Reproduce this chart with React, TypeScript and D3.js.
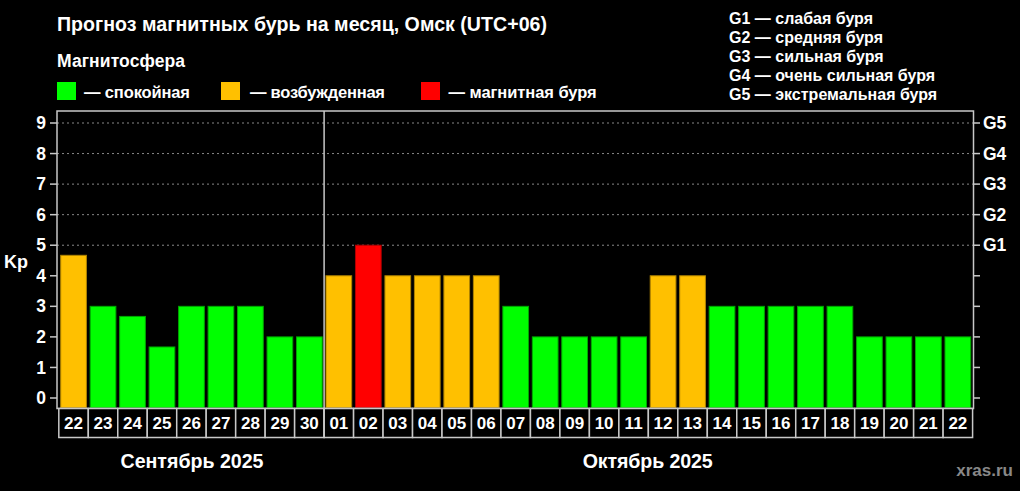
import React from "react";
import * as d3 from "d3";

const days = ["22","23","24","25","26","27","28","29","30","01","02","03","04","05","06","07","08","09","10","11","12","13","14","15","16","17","18","19","20","21","22"];
const kp = [4.67,3,2.67,1.67,3,3,3,2,2,4,5,4,4,4,4,3,2,2,2,2,4,4,3,3,3,3,3,2,2,2,2];
const yTicks = [0,1,2,3,4,5,6,7,8,9];
const gLevels = ["G1","G2","G3","G4","G5"];
const gValues = [5,6,7,8,9];
const gDescriptions = ["G1 — слабая буря","G2 — средняя буря","G3 — сильная буря","G4 — очень сильная буря","G5 — экстремальная буря"];
const months = ["Сентябрь 2025","Октябрь 2025"];
const legendItems = ["— спокойная","— возбужденная","— магнитная буря"];

const FONT = "'Liberation Sans', Arial, sans-serif";
const fill = (v: number) => (v >= 5 ? "#ff0000" : v >= 4 ? "#ffc000" : "#00ff00");
const stroke = (v: number) => (v >= 5 ? "#b00000" : v >= 4 ? "#b08400" : "#00a800");

export default function App() {
  const W = 1020, H = 491;
  const keys = days.map((d, i) => i + "_" + d);
  const x = d3.scaleBand<string>().domain(keys).range([60.7, 970.7]).paddingInner(0.128).paddingOuter(0);
  const y = d3.scaleLinear().domain([0, 9]).range([398, 123]);
  const frameL = 57, frameR = 973.5, frameT = 111, frameB = 408.5;
  const step = x.step();
  const gap = step - x.bandwidth();
  const boxT = 408.5, boxB = 437.5;
  const sepIdx = days.indexOf("01");
  const sepX = (x(keys[sepIdx]) as number) - gap / 2;
  const legendColors = ["#00ff00", "#ffc000", "#ff0000"];
  const legendSq = [57, 221, 421];
  const legendTextX = [84, 250, 448.6];
  const legendTextW = [106, 135, 148];
  return (
    <svg width={W} height={H} style={{ position: "fixed", left: 0, top: 0, background: "#000" }} fontFamily={FONT}>
      <rect x={0} y={0} width={W} height={H} fill="#000" />
      <text x={57} y={31} fill="#fff" fontSize={19.6} fontWeight="bold" textLength={490}>Прогноз магнитных бурь на месяц, Омск (UTC+06)</text>
      <text x={57} y={67} fill="#fff" fontSize={17.5} fontWeight="bold" textLength={128}>Магнитосфера</text>
      {legendItems.map((t, i) => (
        <g key={t}>
          <rect x={legendSq[i]} y={82} width={19} height={18} fill={legendColors[i]} />
          <text x={legendTextX[i]} y={97.5} fill="#fff" fontSize={16.5} fontWeight="bold" textLength={legendTextW[i]}>{t}</text>
        </g>
      ))}
      {gDescriptions.map((t, i) => (
        <text key={t} x={729} y={23.5 + i * 19.2} fill="#fff" fontSize={16} fontWeight="bold">{t}</text>
      ))}
      {gValues.map((v) => (
        <line key={"g" + v} x1={frameL} x2={frameR} y1={y(v)} y2={y(v)} stroke="#888" strokeDasharray="2,3" strokeWidth={1} />
      ))}
      {kp.map((v, i) => (
        <rect key={keys[i]} x={x(keys[i])} y={y(v)} width={x.bandwidth()} height={y(0) - y(v) + 9.5} fill={fill(v)} stroke={stroke(v)} strokeWidth={1} />
      ))}
      <rect x={frameL} y={frameT} width={frameR - frameL} height={frameB - frameT} fill="none" stroke="#c8c8c8" strokeWidth={1.5} />
      {yTicks.map((v) => (
        <g key={"t" + v}>
          <line x1={50} x2={frameL} y1={y(v)} y2={y(v)} stroke="#c8c8c8" strokeWidth={1.5} />
          <line x1={frameR} x2={980} y1={y(v)} y2={y(v)} stroke="#c8c8c8" strokeWidth={1.5} />
          <text x={46} y={y(v)} dy="0.35em" textAnchor="end" fill="#fff" fontSize={17.5} fontWeight="bold">{v}</text>
        </g>
      ))}
      {gLevels.map((g, i) => (
        <text key={g} x={983} y={y(gValues[i])} dy="0.35em" fill="#fff" fontSize={17.5} fontWeight="bold">{g}</text>
      ))}
      <text x={4} y={268} fill="#fff" fontSize={18} fontWeight="bold">Kp</text>
      {keys.map((k, i) => {
        const bx = (x(k) as number) - gap / 2;
        return (
          <g key={"b" + k}>
            <rect x={bx} y={boxT} width={step} height={boxB - boxT} fill="#000" stroke="#c8c8c8" strokeWidth={1.5} />
            <text x={bx + step / 2} y={(boxT + boxB) / 2} dy="0.36em" textAnchor="middle" fill="#fff" fontSize={17} fontWeight="bold">{days[i]}</text>
          </g>
        );
      })}
      <line x1={sepX} x2={sepX} y1={frameT} y2={boxB} stroke="#c8c8c8" strokeWidth={1.5} />
      <text x={192 - 71.5} y={468} fill="#fff" fontSize={19.6} fontWeight="bold" textLength={143}>{months[0]}</text>
      <text x={647.7 - 65} y={468} fill="#fff" fontSize={19.6} fontWeight="bold" textLength={130}>{months[1]}</text>
      <text x={1013} y={476} textAnchor="end" fill="#888" fontSize={17} fontWeight="bold">xras.ru</text>
    </svg>
  );
}
